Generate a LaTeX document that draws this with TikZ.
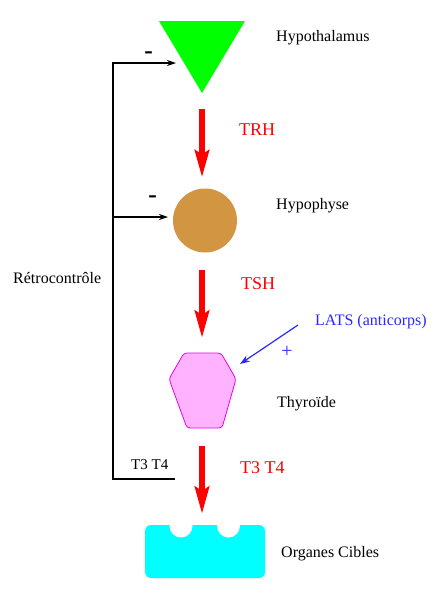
\documentclass[tikz,border=0pt]{standalone}
\usepackage{fontspec}
\setmainfont{Liberation Serif}
\newfontfamily\dejavu{DejaVu Sans}
\usetikzlibrary{arrows.meta,calc}

\definecolor{hypoGreen}{RGB}{0,255,0}
\definecolor{hypophBrown}{RGB}{210,150,66}
\definecolor{thyroPink}{RGB}{255,178,255}
\definecolor{thyroEdge}{RGB}{235,0,235}
\definecolor{organCyan}{RGB}{0,255,255}
\definecolor{latsBlue}{RGB}{40,40,255}

\begin{document}
\begin{tikzpicture} [
	   x=1pt, y=-1pt,
	   gland/.style    = { inner sep=0pt, outer sep=0pt },
	   txt/.style      = { anchor=base west, inner sep=0pt, font=\fontsize{16}{19}\selectfont },
	   hormone/.style  = { txt, text=red, font=\fontsize{18}{21}\selectfont },
	   minus/.style    = { inner sep=0pt, font=\dejavu\bfseries\fontsize{17}{20}\selectfont },
	   redline/.style  = { draw=red, line width=6pt, -{Stealth[length=27pt,width=14pt,inset=4pt]} },
	   fbline/.style   = { draw, line width=1.2pt, -{Stealth[length=9pt,width=6pt]} },
	   latsline/.style = { draw=latsBlue, line width=1.2pt, -{Stealth[length=10pt,width=7pt]} },
	 ]
	  \useasboundingbox (0,0) rectangle (440,595);

	  % glands
	  \node [gland, minimum width=86, minimum height=72] (hypothal) at (202,57) {};
	  \fill [hypoGreen] (hypothal.north west) -- (hypothal.north east) -- (hypothal.south) -- cycle;

	  \node [gland, circle, fill=hypophBrown, minimum size=64] (hypoph) at (205,220.5) {};

	  \node [gland, minimum width=67, minimum height=75] (thyro) at (202.5,390.5) {};
	  \draw [fill=thyroPink, draw=thyroEdge, line width=0.8pt, rounded corners=3pt]
	        ($(thyro.north)+(-18.5,0)$) -- ++(37,0) -- ++(15,26) -- ++(-14,49)
	        -- ++(-35,0) -- ++(-18,-49) -- cycle;

	  \node [gland, fill=organCyan, rounded corners=6pt, minimum width=120, minimum height=53] (organes) at (205,551.5) {};
	  \fill [white] ($(organes.north)+(-24,1)$) circle (11.5);
	  \fill [white] ($(organes.north)+(23.5,1)$) circle (11.5);

	  % labels
	  \node [txt] (hypothalTxt) at (276,41) {Hypothalamus};
	  \node [txt] (hypophTxt) at (276,209) {Hypophyse};
	  \node [txt] (thyroTxt) at (277,407) {Thyroïde};
	  \node [txt] (organesTxt) at (281,557) {Organes Cibles};
	  \node [txt] (retro) at (13,283) {Rétrocontrôle};
	  \node [hormone] (trh) at (239,135) {TRH};
	  \node [hormone] (tsh) at (241,289) {TSH};
	  \node [hormone] (t3t4) at (240,473) {T3 T4};
	  \node [txt, text=latsBlue] (lats) at (315,325) {LATS (anticorps)};
	  \node [inner sep=0pt, text=latsBlue, font=\fontsize{20}{22}\selectfont] (plus) at (287,352) {+};
	  \node [txt, font=\fontsize{15}{18}\selectfont] (t3t4fb) at (131,469) {T3 T4};
	  \node [minus] (minusA) at (148.5,55) {–};
	  \node [minus] (minusB) at (152.5,199) {–};

	  % connectors
	  \coordinate (fbStart) at (175,479);
	  \coordinate (fbCorner) at (113,63);
	  \coordinate (fbTip) at (176,63);
	  \coordinate (latsEnd) at (240,364);

	  \draw [redline, shorten <=16pt, shorten >=11pt] (hypothal.south) -- (hypothal.south |- hypoph.north);
	  \draw [redline, shorten <=17.5pt, shorten >=15pt] (hypothal.south |- hypoph.south) -- (hypothal.south |- thyro.north);
	  \draw [redline, shorten <=18pt, shorten >=11pt] (hypothal.south |- thyro.south) -- (hypothal.south |- organes.north);

	  \draw [fbline] (fbStart) -| (fbCorner) -- (fbTip);
	  \draw [fbline] (fbCorner |- hypoph.west) ++(0,-3.5) -- ([shift={(-5,-3.5)}]hypoph.west);

	  \draw [latsline] ([xshift=-17pt]lats.base west) -- (latsEnd);
	\end{tikzpicture}
\end{document}
